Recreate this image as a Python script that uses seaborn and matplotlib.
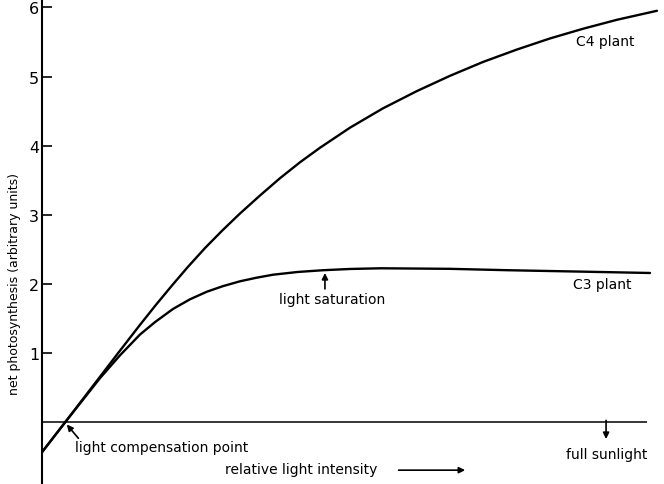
import pandas as pd
import seaborn as sns
import matplotlib.pyplot as plt

# Net photosynthesis vs relative light intensity
# (light intensity on a 0-100 relative scale, photosynthesis in arbitrary units)
c4_light = [0, 3.80, 9.57, 12.54, 16.17, 18.81, 21.46, 24.10, 26.90, 29.71, 32.68,
            35.98, 39.28, 42.58, 45.88, 50.83, 56.28, 61.89, 67.34, 72.78, 78.39,
            83.84, 89.29, 94.90, 101.5]
c4_photo = [-0.43, 0, 0.66, 1.0, 1.41, 1.70, 1.98, 2.25, 2.52, 2.77, 3.02,
            3.28, 3.53, 3.76, 3.97, 4.26, 4.54, 4.79, 5.01, 5.21, 5.39,
            5.55, 5.69, 5.82, 5.95]
c3_light = [0, 3.80, 9.57, 12.87, 16.17, 18.65, 21.62, 24.43, 27.23, 29.87, 32.68,
            35.32, 38.12, 42.25, 46.38, 50.83, 55.95, 67.34, 76.91, 88.79, 100.35]
c3_photo = [-0.43, 0, 0.64, 0.97, 1.27, 1.45, 1.64, 1.78, 1.89, 1.97, 2.04,
            2.09, 2.135, 2.175, 2.20, 2.218, 2.228, 2.22, 2.20, 2.18, 2.16]

y_ticks = [1, 2, 3, 4, 5, 6]
y_ticklabels = ["1", "2", "3", "4", "5", "6"]

compensation_point = 3.80
saturation_light = 46.7
saturation_photo = 2.20
full_sunlight = 93.1
baseline_end = 99.85

#Plot options
sns.set_style(style='white')
plt.rcParams['font.family'] = ['DejaVu Sans']
plt.rcParams['text.color'] = 'black'

df = pd.concat([
    pd.DataFrame({'light': c4_light, 'photo': c4_photo, 'plant': 'C4 plant'}),
    pd.DataFrame({'light': c3_light, 'photo': c3_photo, 'plant': 'C3 plant'}),
])

fig = plt.figure(figsize=(6.64, 4.85), dpi=100)
ax = fig.add_axes([42/664, 0, 618/664, 1 - 1.4/485])

sns.lineplot(data=df, x='light', y='photo', hue='plant',
             palette={'C4 plant': 'black', 'C3 plant': 'black'},
             estimator=None, sort=False, legend=False, lw=1.7, ax=ax)

# zero line (x axis)
ax.hlines(0, 0, baseline_end, color='black', lw=1.1)

ax.set_xlim(0, 102)
ax.set_ylim(-0.89, 6.10)
for s in ['top', 'right', 'bottom']:
    ax.spines[s].set_visible(False)
ax.spines['left'].set_linewidth(1.5)
ax.spines['left'].set_color('black')

ax.set_xticks([])
ax.set_yticks(y_ticks)
ax.set_yticklabels(y_ticklabels)
ax.tick_params(axis='y', direction='in', length=7, width=1.2, pad=2,
               labelsize=11.5, colors='black', left=True)
ax.set_xlabel('')
ax.set_ylabel('')

fig.text(15/664, 1 - 284/485, 'net photosynthesis (arbitrary units)',
         rotation=90, ha='center', va='center', fontsize=9)

arrow = dict(arrowstyle='-|>', color='black', lw=1.2, mutation_scale=9)

# curve labels
ax.text(88.1, 5.52, 'C4 plant', fontsize=10, ha='left', va='center')
ax.text(87.6, 2.0, 'C3 plant', fontsize=10, ha='left', va='center')

# light saturation
ax.annotate('', xy=(saturation_light, saturation_photo),
            xytext=(saturation_light, 1.89), arrowprops=arrow)
ax.text(47.9, 1.78, 'light saturation', fontsize=10, ha='center', va='center')

# light compensation point
ax.annotate('', xy=(compensation_point, 0), xytext=(6.3, -0.26), arrowprops=arrow)
ax.text(5.45, -0.36, 'light compensation point', fontsize=10, ha='left', va='center')

# full sunlight
ax.annotate('', xy=(full_sunlight, -0.28), xytext=(full_sunlight, 0.07), arrowprops=arrow)
ax.text(baseline_end, -0.455, 'full sunlight', fontsize=10, ha='right', va='center')

# x axis label with arrow
ax.text(30.2, -0.67, 'relative light intensity', fontsize=10, ha='left', va='center')
ax.annotate('', xy=(70.3, -0.69), xytext=(58.4, -0.69), arrowprops=arrow)

fig.savefig('out.png', dpi=100)
